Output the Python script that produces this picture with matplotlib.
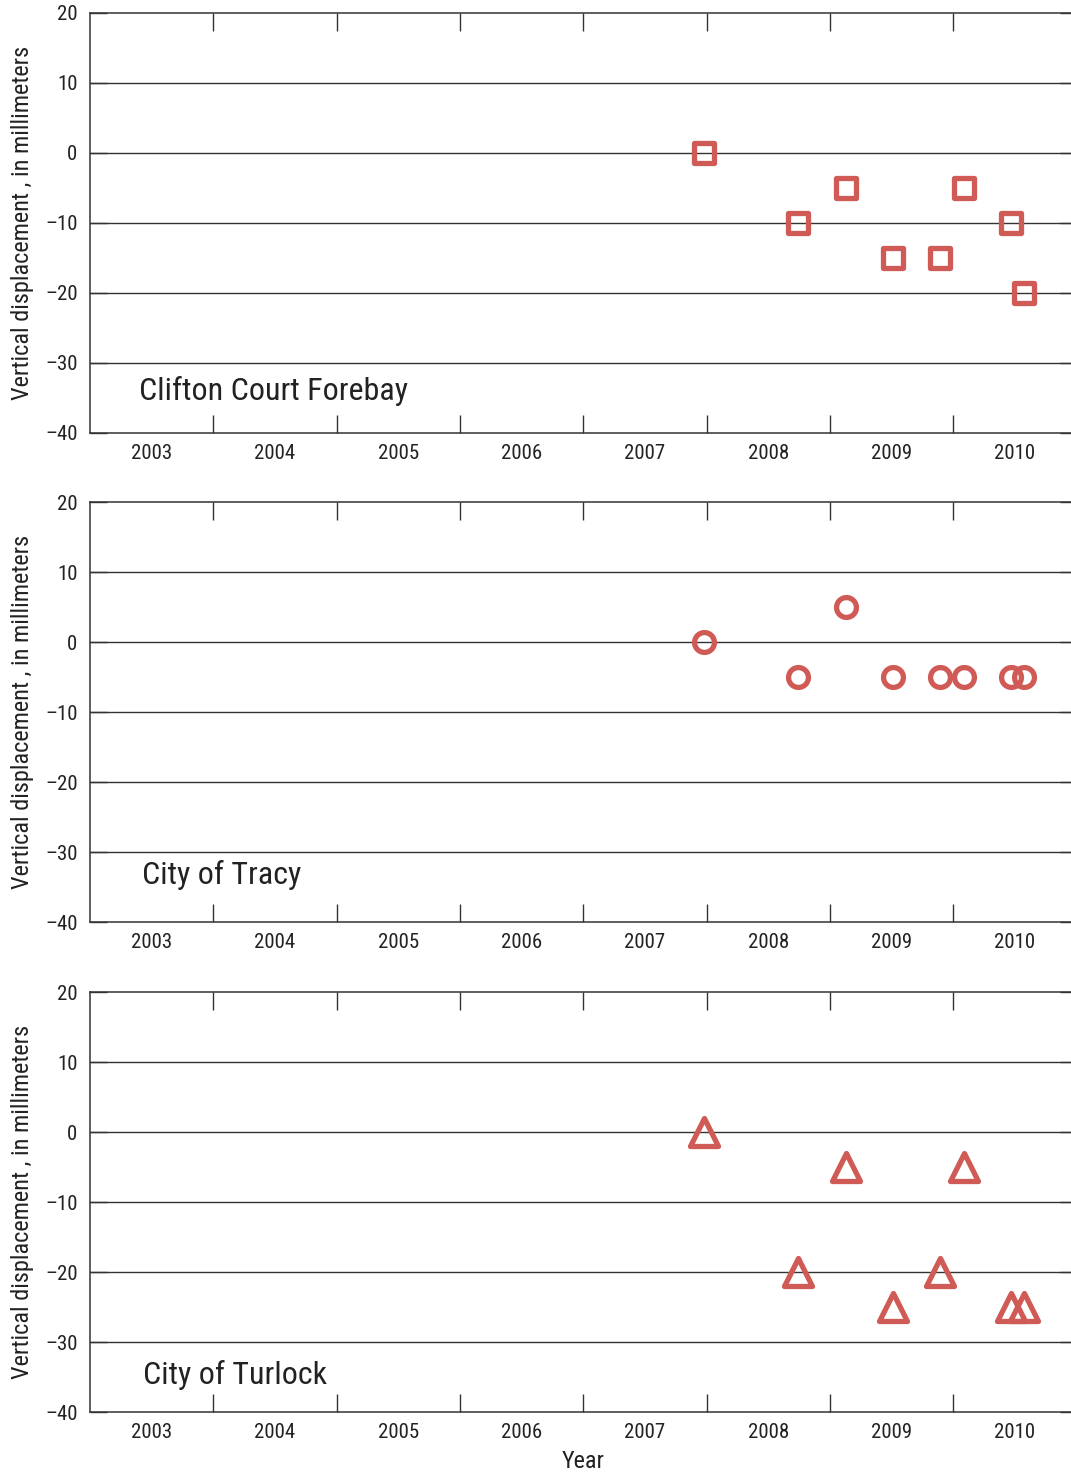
import matplotlib
matplotlib.use("Agg")
import matplotlib.pyplot as plt
from matplotlib import font_manager
from matplotlib.markers import MarkerStyle
from matplotlib.ticker import FixedLocator, NullFormatter, FixedFormatter

# pick a narrow sans face if one is installed
narrow_faces = [f for f in font_manager.fontManager.ttflist
                if f.stretch in ("condensed", "semi-condensed", "extra-condensed")
                or "Narrow" in f.name or "Condensed" in f.name]
preferred = ["Roboto Condensed", "Open Sans Condensed", "Noto Sans",
             "Liberation Sans Narrow", "Roboto"]
narrow_names = {f.name: f.stretch for f in narrow_faces}
family = "Liberation Sans"
stretch = "normal"
for name in preferred:
    if name in narrow_names:
        family = name
        stretch = narrow_names[name]
        break
plt.rcParams["font.family"] = [family, "DejaVu Sans"]
plt.rcParams["font.stretch"] = stretch

# survey dates (decimal years) and displacement, in millimeters
dates = [2007.98, 2008.74, 2009.13, 2009.51, 2009.89, 2010.09, 2010.47, 2010.57]
clifton = [0, -10, -5, -15, -15, -5, -10, -20]
tracy = [0, -5, 5, -5, -5, -5, -5, -5]
turlock = [0, -20, -5, -25, -20, -5, -25, -25]

sites = ["Clifton Court Forebay", "City of Tracy", "City of Turlock"]
markers = ["s", "o", "^"]
series = [clifton, tracy, turlock]

years = list(range(2003, 2011))
year_edges = list(range(2004, 2011))
y_ticks = [-40, -30, -20, -10, 0, 10, 20]

color = "#d05a55"
line_color = "#333333"
text_color = "#222222"

W, H = 1071, 1473
fig = plt.figure(figsize=(W / 100, H / 100), dpi=100)

# pixel boxes of the three panels: top, bottom
boxes = [(13, 433), (502, 922), (992, 1412)]
left_px, right_px = 90, 1076.7
sizes = [14.3, 14.3, 19.5]
title_y = [-34, -33.3, -34.7]
title_x = [2003.40, 2003.42, 2003.43]

for i, (top, bot) in enumerate(boxes):
    ax = fig.add_axes([left_px / W, 1 - bot / H, (right_px - left_px) / W, (bot - top) / H])
    ax.set_xlim(2003, 2011)
    ax.set_ylim(-40, 20)

    for y in y_ticks[1:-1]:
        ax.axhline(y, color=line_color, lw=1.0, zorder=1)

    ms = MarkerStyle(markers[i], joinstyle="round")
    ax.plot(dates, series[i], linestyle="none", marker=ms, markersize=sizes[i],
            markerfacecolor="none", markeredgecolor=color, markeredgewidth=3.8,
            zorder=3, clip_on=False)

    ax.text(title_x[i], title_y[i], sites[i], fontsize=23, va="center", ha="left",
            color=text_color)

    for side in ["top", "bottom", "left", "right"]:
        ax.spines[side].set_color(line_color)
        ax.spines[side].set_linewidth(1.1)

    ax.xaxis.set_major_locator(FixedLocator(year_edges))
    ax.xaxis.set_major_formatter(NullFormatter())
    ax.xaxis.set_minor_locator(FixedLocator([y + 0.5 for y in years]))
    ax.xaxis.set_minor_formatter(FixedFormatter([str(y) for y in years]))
    ax.tick_params(axis="x", which="major", direction="in", length=13, width=1.0,
                   color=line_color, top=True, bottom=True)
    ax.tick_params(axis="x", which="minor", length=0, pad=8, labelsize=15,
                   labelcolor=text_color)

    ax.set_yticks(y_ticks)
    ax.set_yticklabels([str(v).replace("-", "\u2013") for v in y_ticks])
    ax.tick_params(axis="y", direction="in", length=12, width=1.0, color=line_color,
                   left=True, right=True, pad=9, labelsize=15, labelcolor=text_color)

    ax.set_ylabel("Vertical displacement , in millimeters", fontsize=17.5,
                  color=text_color)
    ax.yaxis.set_label_coords(-0.057, 0.5)

    if i == 2:
        ax.set_xlabel("Year", fontsize=17.5, color=text_color, labelpad=6)

fig.savefig("out.png", dpi=100)
